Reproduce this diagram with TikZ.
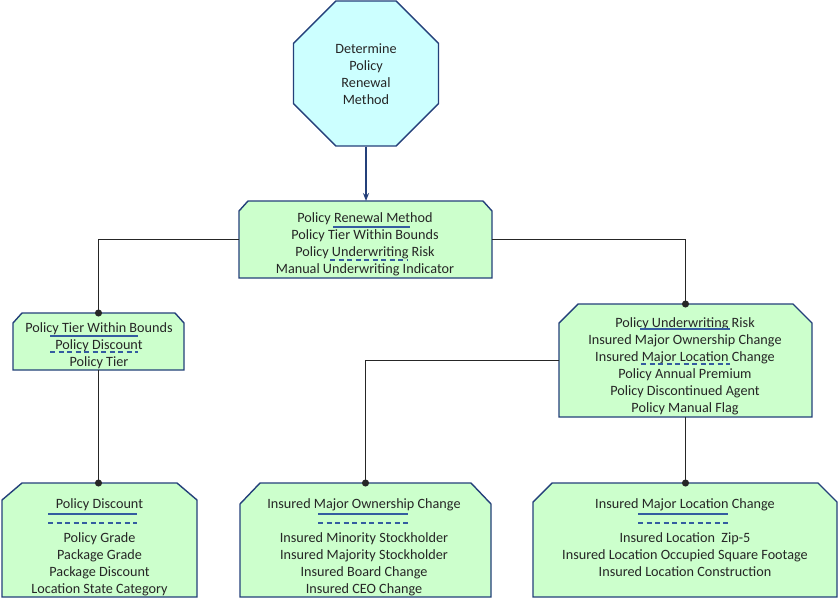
\documentclass[tikz,border=0pt]{standalone}
\usepackage{fontspec}
\setmainfont{Carlito}
\usetikzlibrary{shapes.geometric, arrows.meta, positioning}

\definecolor{boxline}{RGB}{36,64,122}
\definecolor{boxfill}{RGB}{204,255,204}
\definecolor{octfill}{RGB}{204,255,255}
\definecolor{ulblue}{RGB}{52,92,160}
\definecolor{txtgray}{RGB}{38,38,38}

% box with the two top corners cut off: node, cut x, cut y
\newcommand{\cutbox}[3]{%
  \filldraw[draw=boxline, fill=boxfill, line width=1.4pt]
    ([xshift=#2]#1.north west) -- ([xshift=-#2]#1.north east) -- ([yshift=-#3]#1.north east)
    -- (#1.south east) -- (#1.south west) -- ([yshift=-#3]#1.north west) -- cycle;}

\begin{document}
\begin{tikzpicture}[x=1pt, y=-1pt, font=\fontsize{14.2pt}{17pt}\selectfont,
    area/.style={rectangle, inner sep=0pt, outer sep=0pt},
    txt/.style={align=center, text=txtgray, inner sep=0pt},
    link/.style={draw=black!85, line width=1.1pt, -{Circle[length=7pt]}, shorten >=-3.5pt},
    uline/.style={draw=ulblue, line width=1.3pt},
    dline/.style={uline, dash pattern=on 5pt off 3.5pt}]
        \fill[white] (0,0) rectangle (840,598);
        \useasboundingbox (0,0) rectangle (840,598);

        \node[regular polygon, regular polygon sides=8, minimum size=157pt, inner sep=0pt, draw=boxline, fill=octfill, line width=1.4pt, align=center, text=txtgray] (start) at (366,73.5) {\raisebox{-2pt}[\height][\depth]{\begin{tabular}{@{}c@{}}Determine\\Policy\\Renewal\\Method\end{tabular}}};

        \node[area, minimum width=253pt, minimum height=77pt] (renew) at (365.5,239.5) {};
        \node[area, minimum width=171pt, minimum height=57pt] (tier) at (98.5,341.5) {};
        \node[area, minimum width=253pt, minimum height=113pt] (risk) at (685.5,360.5) {};
        \node[area, minimum width=195pt, minimum height=114pt] (disc) at (99.5,540) {};
        \node[area, minimum width=251pt, minimum height=114pt] (own) at (365.5,540) {};
        \node[area, minimum width=304pt, minimum height=114pt] (loc) at (685,540) {};

        \cutbox{renew}{9pt}{10pt}
        \cutbox{tier}{9pt}{10pt}
        \cutbox{risk}{19pt}{19pt}
        \cutbox{disc}{20pt}{17pt}
        \cutbox{own}{20pt}{21pt}
        \cutbox{loc}{19pt}{19pt}

        \node[txt] (renewtxt) at (365,244.5) {Policy Renewal Method\\Policy Tier Within Bounds\\Policy Underwriting Risk\\Manual Underwriting Indicator};
        \node[txt] (tiertxt) at (99,346) {Policy Tier Within Bounds\\Policy Discount\\Policy Tier};
        \node[txt] (risktxt) at (685,366) {Policy Underwriting Risk\\Insured Major Ownership Change\\Insured Major Location Change\\Policy Annual Premium\\Policy Discontinued Agent\\Policy Manual Flag};
        \node[txt] (disctxt) at (99.5,547) {Policy Discount\\[17pt]Policy Grade\\Package Grade\\Package Discount\\Location State Category};
        \node[txt] (owntxt) at (364,547) {Insured Major Ownership Change\\[17pt]Insured Minority Stockholder\\Insured Majority Stockholder\\Insured Board Change\\Insured CEO Change};
        \node[txt] (loctxt) at (685,537.5) {Insured Major Location Change\\[17pt]Insured Location\ \ Zip-5\\Insured Location Occupied Square Footage\\Insured Location Construction};

        % underlines
        \draw[uline] (333,227) -- (410,227);
        \draw[dline] (330,260) -- (407,260);
        \draw[uline] (50,336) -- (138,336);
        \draw[dline] (50,352) -- (138,352);
        \draw[uline] (640,329) -- (730,329);
        \draw[dline] (641,364) -- (730,364);
        \draw[uline] (48,514) -- (137,514);
        \draw[dline] (48,523) -- (137,523);
        \draw[uline] (318,514) -- (408,514);
        \draw[dline] (318,523) -- (408,523);
        \draw[uline] (638,514) -- (728,514);
        \draw[dline] (638,523) -- (728,523);

        \draw[-{Stealth[length=8pt, width=6pt]}, draw=boxline, fill=boxline, line width=1.5pt] (start.south) -- (start.south |- renew.north);
        \draw[link] (renew.west) -| (tier.north);
        \draw[link] (renew.east) -| (risk.north);
        \draw[link] (tier.south) -- (tier.south |- disc.north);
        \draw[link] (risk.west) -| (own.north);
        \draw[link] (risk.south) -- (risk.south |- loc.north);
\end{tikzpicture}
\end{document}
